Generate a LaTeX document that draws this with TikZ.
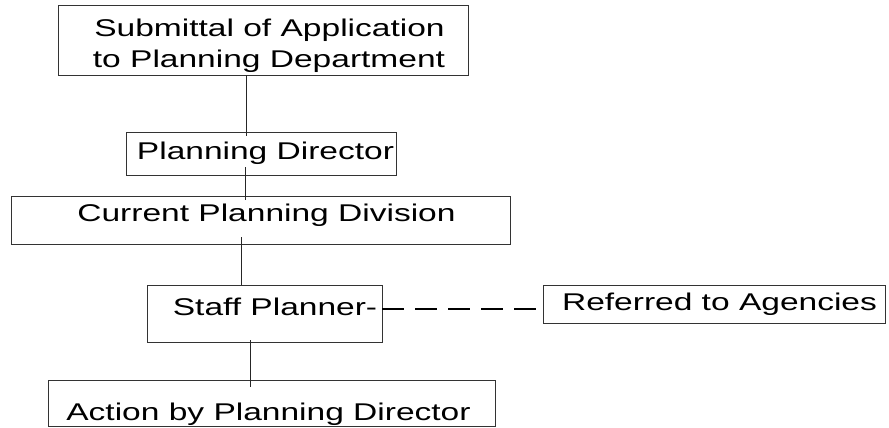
\documentclass[tikz,border=0pt]{standalone}
\usepackage{fontspec}
\setmainfont{Liberation Sans}[FakeStretch=1.385]
\begin{document}
\begin{tikzpicture}[x=1pt,y=-1pt,
  box/.style={draw=black!80, line width=0.9pt, rectangle, inner sep=0pt},
  txt/.style={anchor=base, inner sep=0pt, font=\fontsize{24.2}{29}\selectfont},
  link/.style={draw=black!85, line width=0.9pt},
  dashlink/.style={draw=black, line width=1.6pt, dash pattern=on 22pt off 11pt}]
\useasboundingbox (0,0) rectangle (889,428);
% boxes
\node[box, minimum width=410pt, minimum height=70pt] (b1) at (263,40) {};
\node[box, minimum width=270pt, minimum height=43pt] (b2) at (261,153.5) {};
\node[box, minimum width=499pt, minimum height=48pt] (b3) at (260.5,220) {};
\node[box, minimum width=235pt, minimum height=57pt] (b4) at (264.5,313.5) {};
\node[box, minimum width=342pt, minimum height=38pt] (b5) at (714,304) {};
\node[box, minimum width=447pt, minimum height=46pt] (b6) at (271.5,403.5) {};
% texts
\node[txt] (t1a) at (269.5,36.7) {Submittal of Application};
\node[txt] (t1b) at (269,67) {to Planning Department};
\node[txt] (t2) at (265.5,159) {Planning Director};
\node[txt] (t3) at (266.5,221.7) {Current Planning Division};
\node[txt] (t4) at (275,315) {Staff Planner-};
\node[txt] (t5) at (719.5,310) {Referred to Agencies};
\node[txt] (t6) at (268.5,420) {Action by Planning Director};
% connector x positions
\coordinate (x1) at (246,0);
\coordinate (x2) at (245,0);
\coordinate (x3) at (241,0);
\coordinate (x4) at (250,0);
\coordinate (yd) at (0,309);
\draw[link] (b1.south -| x1) -- ([yshift=-4pt]b2.north -| x1);
\draw[link] ([yshift=8pt]b2.south -| x2) -- ([yshift=-4pt]b3.north -| x2);
\draw[link] ([yshift=7pt]b3.south -| x3) -- (b4.north -| x3);
\draw[link] ([yshift=2pt]b4.south -| x4) -- ([yshift=-7pt]b6.north -| x4);
\draw[dashlink] (b4.east |- yd) -- (b5.west |- yd);
\end{tikzpicture}
\end{document}
